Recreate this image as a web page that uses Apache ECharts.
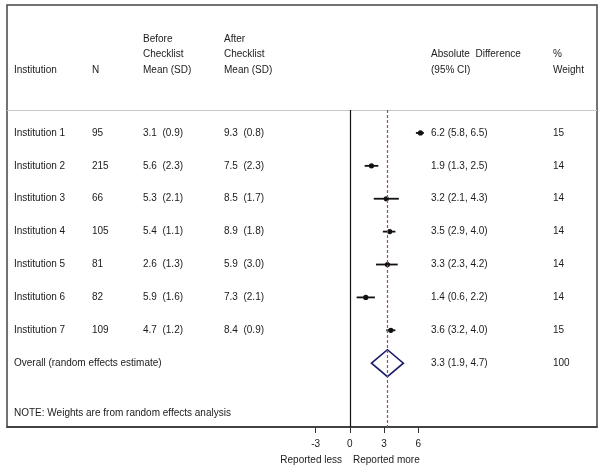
<!DOCTYPE html>
<html>
<head>
<meta charset="utf-8">
<script src="https://cdn.jsdelivr.net/npm/echarts@6.0.0/dist/echarts.min.js"></script>
<style>
html, body { margin: 0; padding: 0; background: #fff; }
#chart { width: 604px; height: 472px; }
</style>
</head>
<body>
<div id="chart"></div>
<script>
// ---- data ----
var institutions = ['Institution 1', 'Institution 2', 'Institution 3', 'Institution 4', 'Institution 5', 'Institution 6', 'Institution 7'];
var sampleN = [95, 215, 66, 105, 81, 82, 109];
var beforeMean = [3.1, 5.6, 5.3, 5.4, 2.6, 5.9, 4.7];
var beforeSD = [0.9, 2.3, 2.1, 1.1, 1.3, 1.6, 1.2];
var afterMean = [9.3, 7.5, 8.5, 8.9, 5.9, 7.3, 8.4];
var afterSD = [0.8, 2.3, 1.7, 1.8, 3.0, 2.1, 0.9];
var diffEst = [6.2, 1.9, 3.2, 3.5, 3.3, 1.4, 3.6];
var diffLow = [5.8, 1.3, 2.1, 2.9, 2.3, 0.6, 3.2];
var diffHigh = [6.5, 2.5, 4.3, 4.0, 4.2, 2.2, 4.0];
var weights = [15, 14, 14, 14, 14, 14, 15];
var overallLabel = 'Overall (random effects estimate)';
var overallEst = 3.3, overallLow = 1.9, overallHigh = 4.7, overallWeight = 100;
var xTicks = [-3, 0, 3, 6];

// ---- layout ----
var FONT = "'Liberation Sans', Arial, sans-serif";
var TEXT_COLOR = '#1a1a1a';
var xMin = -30.1, xMax = 21.7;   // so that 0 sits at the reference's null line
var yMin = -3.89, yMax = 8.94;   // row units (row 0 = Institution 1)
var headerRow = -0.7;
var colX = { name: 14, n: 92, before: 143, after: 224, ci: 431, weight: 553 };

function textEl(x, y, s) {
    return {
        type: 'text', x: x, y: y,
        style: { text: s, font: '10px ' + FONT, fill: TEXT_COLOR, verticalAlign: 'middle' }
    };
}
function ciText(est, lo, hi) {
    return est.toFixed(1) + ' (' + lo.toFixed(1) + ', ' + hi.toFixed(1) + ')';
}

var rowData = institutions.map(function (name, i) {
    return [i, diffEst[i], diffLow[i], diffHigh[i]];
});
var overallRow = institutions.length;

var chart = echarts.init(document.getElementById('chart'));
var option = {
    backgroundColor: '#fff',
    animation: false,
    grid: {
        left: 7, top: 5, width: 590, height: 422,
        show: true, borderColor: '#444', borderWidth: 1.5
    },
    xAxis: {
        type: 'value', min: xMin, max: xMax,
        splitLine: { show: false },
        axisLine: { show: true, onZero: false, lineStyle: { color: '#333', width: 1.5 } },
        axisTick: { show: true, customValues: xTicks, length: 6, lineStyle: { color: '#333' } },
        axisLabel: { customValues: xTicks, margin: 12, fontSize: 10, fontFamily: FONT, color: TEXT_COLOR }
    },
    yAxis: { type: 'value', inverse: true, min: yMin, max: yMax, show: false },
    graphic: [
        textEl(colX.name, 70, 'Institution'),
        textEl(colX.n, 70, 'N'),
        textEl(colX.before, 39, 'Before'),
        textEl(colX.before, 54, 'Checklist'),
        textEl(colX.before, 70, 'Mean (SD)'),
        textEl(colX.after, 39, 'After'),
        textEl(colX.after, 54, 'Checklist'),
        textEl(colX.after, 70, 'Mean (SD)'),
        textEl(colX.ci, 54, 'Absolute  Difference'),
        textEl(colX.ci, 70, '(95% CI)'),
        textEl(colX.weight, 54, '%'),
        textEl(colX.weight, 70, 'Weight'),
        textEl(colX.name, 413, 'NOTE: Weights are from random effects analysis'),
        {
            type: 'text', x: 342, y: 460,
            style: { text: 'Reported less', font: '10px ' + FONT, fill: TEXT_COLOR, align: 'right', verticalAlign: 'middle' }
        },
        textEl(353, 460, 'Reported more')
    ],
    series: [
        {
            // study rows: table text + CI line + point
            type: 'custom',
            data: rowData,
            encode: { x: [1, 2, 3], y: 0 },
            renderItem: function (params, api) {
                var i = params.dataIndex;
                var row = api.value(0);
                var p = api.coord([api.value(1), row]);
                var lo = api.coord([api.value(2), row]);
                var hi = api.coord([api.value(3), row]);
                var y = p[1];
                return {
                    type: 'group',
                    children: [
                        { type: 'line', shape: { x1: lo[0], y1: y, x2: hi[0], y2: y }, style: { stroke: '#111', lineWidth: 1.8 } },
                        { type: 'circle', shape: { cx: p[0], cy: y, r: 2.6 }, style: { fill: '#111' } },
                        textEl(colX.name, y, institutions[i]),
                        textEl(colX.n, y, String(sampleN[i])),
                        textEl(colX.before, y, beforeMean[i].toFixed(1) + '  (' + beforeSD[i].toFixed(1) + ')'),
                        textEl(colX.after, y, afterMean[i].toFixed(1) + '  (' + afterSD[i].toFixed(1) + ')'),
                        textEl(colX.ci, y, ciText(diffEst[i], diffLow[i], diffHigh[i])),
                        textEl(colX.weight, y, String(weights[i]))
                    ]
                };
            }
        },
        {
            // pooled estimate diamond
            type: 'custom',
            data: [[overallRow, overallEst, overallLow, overallHigh]],
            encode: { x: [1, 2, 3], y: 0 },
            renderItem: function (params, api) {
                var row = api.value(0);
                var c = api.coord([api.value(1), row]);
                var lo = api.coord([api.value(2), row]);
                var hi = api.coord([api.value(3), row]);
                var h = 13.5;
                return {
                    type: 'group',
                    children: [
                        {
                            type: 'polygon',
                            shape: { points: [[lo[0], c[1]], [c[0], c[1] - h], [hi[0], c[1]], [c[0], c[1] + h]] },
                            style: { fill: 'none', stroke: '#1c1c6b', lineWidth: 1.6 }
                        },
                        textEl(colX.name, c[1], overallLabel),
                        textEl(colX.ci, c[1], ciText(overallEst, overallLow, overallHigh)),
                        textEl(colX.weight, c[1], String(overallWeight))
                    ]
                };
            },
            markLine: {
                silent: true,
                symbol: 'none',
                label: { show: false },
                data: [
                    [{ coord: [xMin, headerRow], lineStyle: { color: '#c8c8c8', width: 1, type: 'solid' } }, { coord: [xMax, headerRow] }],
                    [{ coord: [0, headerRow], lineStyle: { color: '#111', width: 1.2, type: 'solid' } }, { coord: [0, yMax] }],
                    [{ coord: [overallEst, headerRow], lineStyle: { color: '#9c4a6e', width: 1.2, type: [3, 2] } }, { coord: [overallEst, yMax] }]
                ]
            }
        }
    ]
};
chart.setOption(option);
</script>
</body>
</html>
